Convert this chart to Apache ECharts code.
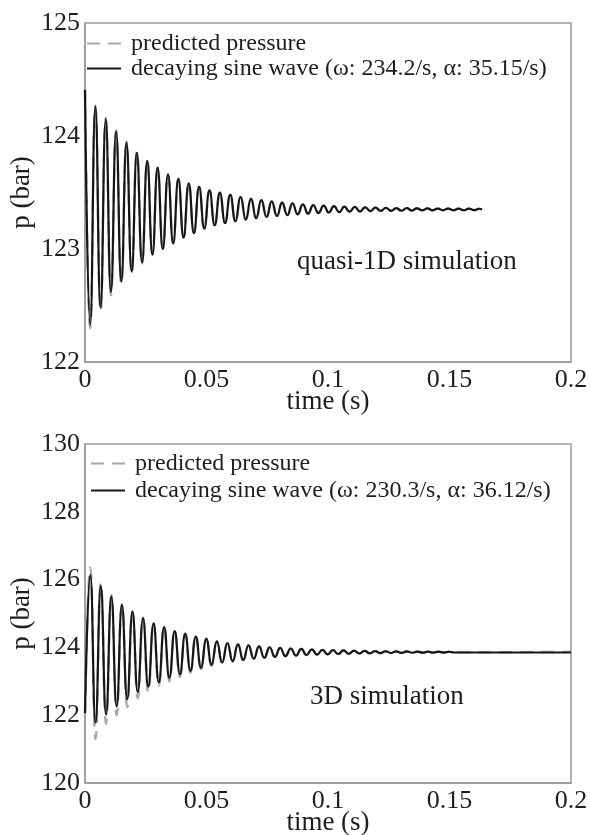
<!DOCTYPE html>
<html>
<head>
<meta charset="utf-8">
<script src="https://cdn.jsdelivr.net/npm/echarts/dist/echarts.min.js"></script>
<style>
html,body{margin:0;padding:0;background:#fff;}
#chart{width:590px;height:835px;}
</style>
</head>
<body>
<div id="chart"></div>
<script>
// ---------- data ----------
// x-axis ticks
const xTicks = [0, 0.05, 0.1, 0.15, 0.2];
const yTicksTop = [122, 123, 124, 125];
const yTicksBottom = [120, 122, 124, 126, 128, 130];

const nameGray = 'predicted pressure';
const nameTop = 'decaying sine wave (ω: 234.2/s, α: 35.15/s)';
const nameBottom = 'decaying sine wave (ω: 230.3/s, α: 36.12/s)';

// top panel: times of successive extrema (s)
const topTime = [0,0.00214,0.00427,0.00641,0.00854,0.01068,0.01281,0.01495,0.01708,0.01922,
0.02135,0.02349,0.02562,0.02776,0.02989,0.03203,0.03416,0.0363,0.03843,0.04057,
0.0427,0.04484,0.04697,0.04911,0.05124,0.05338,0.05551,0.05765,0.05978,0.06192,
0.06405,0.06619,0.06832,0.07046,0.07259,0.07473,0.07686,0.079,0.08113,0.08327,
0.0854,0.08754,0.08967,0.09181,0.09394,0.09608,0.09821,0.10035,0.10248,0.10462,
0.10675,0.10889,0.11102,0.11316,0.11529,0.11743,0.11956,0.1217,0.12383,0.12597,
0.1281,0.13024,0.13237,0.13451,0.13664,0.13878,0.14091,0.14305,0.14518,0.14732,
0.14945,0.15159,0.15372,0.15586,0.15799,0.16013,0.16226,0.1634];

// top panel: decaying sine wave (bar)
const topSine = [124.41,122.33,124.26,122.48,124.15,122.62,124.04,122.71,123.94,122.80,
123.85,122.88,123.78,122.95,123.72,123.00,123.66,123.05,123.62,123.10,
123.58,123.14,123.55,123.18,123.52,123.21,123.50,123.23,123.48,123.245,
123.46,123.26,123.445,123.272,123.432,123.283,123.421,123.292,123.411,123.30,
123.403,123.307,123.395,123.313,123.389,123.318,123.384,123.323,123.379,123.326,
123.375,123.33,123.372,123.332,123.369,123.335,123.366,123.337,123.364,123.338,
123.362,123.339,123.361,123.34,123.36,123.341,123.359,123.342,123.358,123.342,
123.358,123.343,123.357,123.343,123.357,123.344,123.356,123.35];

// top panel: predicted pressure (bar)
const topPred = [124.43,122.30,124.27,122.45,124.16,122.59,124.05,122.69,123.95,122.78,
123.86,122.87,123.78,122.95,123.72,123.00,123.66,123.05,123.62,123.10,
123.58,123.14,123.55,123.18,123.52,123.21,123.50,123.23,123.48,123.245,
123.46,123.26,123.445,123.272,123.432,123.283,123.421,123.292,123.411,123.30,
123.403,123.307,123.395,123.313,123.389,123.318,123.384,123.323,123.379,123.326,
123.375,123.33,123.372,123.332,123.369,123.335,123.366,123.337,123.364,123.338,
123.362,123.339,123.361,123.34,123.36,123.341,123.359,123.342,123.358,123.342,
123.358,123.343,123.357,123.343,123.357,123.344,123.356,123.35];

// bottom panel: times of successive extrema (s)
const botTime = [0,0.00217,0.00434,0.00651,0.00868,0.01086,0.01303,0.0152,0.01737,0.01954,
0.02171,0.02388,0.02605,0.02822,0.03039,0.03257,0.03474,0.03691,0.03908,0.04125,
0.04342,0.04559,0.04776,0.04993,0.0521,0.05428,0.05645,0.05862,0.06079,0.06296,
0.06513,0.0673,0.06947,0.07164,0.07381,0.07599,0.07816,0.08033,0.0825,0.08467,
0.08684,0.08901,0.09118,0.09335,0.09552,0.0977,0.09987,0.10204,0.10421,0.10638,
0.10855,0.11072,0.11289,0.11506,0.11723,0.11941,0.12158,0.12375,0.12592,0.12809,
0.13026,0.13243,0.1346,0.13677,0.13894,0.14112,0.14329,0.14546,0.14763,0.1498,
0.15197,0.2];

// bottom panel: decaying sine wave (bar)
const botSine = [122.06,126.14,121.78,125.81,122.02,125.50,122.26,125.25,122.47,125.05,
122.68,124.86,122.84,124.71,122.97,124.60,123.10,124.48,123.21,124.40,
123.31,124.32,123.40,124.25,123.49,124.18,123.55,124.13,123.59,124.09,
123.63,124.06,123.665,124.03,123.695,124.005,123.72,123.985,123.74,123.968,
123.76,123.954,123.773,123.94,123.785,123.929,123.796,123.919,123.805,123.91,
123.813,123.903,123.82,123.897,123.826,123.892,123.831,123.887,123.835,123.883,
123.839,123.88,123.842,123.877,123.844,123.875,123.846,123.873,123.848,123.871,
123.85,123.85];

// bottom panel: predicted pressure (bar)
const botPred = [122.00,126.36,121.30,125.90,121.75,125.55,122.00,125.28,122.24,125.07,
122.50,124.88,122.68,124.72,122.86,124.61,123.00,124.49,123.13,124.41,
123.25,124.33,123.36,124.26,123.45,124.18,123.55,124.13,123.59,124.09,
123.63,124.06,123.665,124.03,123.695,124.005,123.72,123.985,123.74,123.968,
123.76,123.954,123.773,123.94,123.785,123.929,123.796,123.919,123.805,123.91,
123.813,123.903,123.82,123.897,123.826,123.892,123.831,123.887,123.835,123.883,
123.839,123.88,123.842,123.877,123.844,123.875,123.846,123.873,123.848,123.871,
123.855,123.87];

// ---------- chart ----------
const FONT = '"Liberation Serif", "DejaVu Serif", serif';
const TXT = '#1e1e1e';
const AX = '#9a9a9a';
const zip = (t, v) => t.map((x, i) => [x, v[i]]);

function xAxis(gi) {
  return {
    type: 'value', gridIndex: gi, min: xTicks[0], max: xTicks[xTicks.length - 1], interval: 0.05,
    name: 'time (s)', nameLocation: 'middle', nameGap: 26, nameMoveOverlap: false,
    nameTextStyle: { fontFamily: FONT, fontSize: 27, color: TXT },
    axisLine: { show: true, lineStyle: { color: AX, width: 1.5 } },
    axisTick: { show: false }, splitLine: { show: false },
    axisLabel: { fontFamily: FONT, fontSize: 26, color: TXT, margin: 5,
      formatter: v => String(+v.toFixed(2)) }
  };
}
function yAxis(gi, ticks) {
  return {
    type: 'value', gridIndex: gi, min: ticks[0], max: ticks[ticks.length - 1],
    interval: ticks[1] - ticks[0],
    name: 'p (bar)', nameLocation: 'middle', nameGap: 50, nameMoveOverlap: false,
    nameTextStyle: { fontFamily: FONT, fontSize: 27, color: TXT },
    axisLine: { show: true, lineStyle: { color: AX, width: 1.5 } },
    axisTick: { show: false }, splitLine: { show: false },
    axisLabel: { fontFamily: FONT, fontSize: 26, color: TXT, margin: 5 }
  };
}
function predSeries(gi, data) {
  return { name: nameGray, type: 'line', xAxisIndex: gi, yAxisIndex: gi, data: data,
    symbol: 'none', showSymbol: false, smooth: 0.5, z: 2, animation: false,
    lineStyle: { color: '#a8a8a8', width: 2.4, type: [13, 8] }, itemStyle: { color: '#a8a8a8' } };
}
function sineSeries(gi, name, data) {
  return { name: name, type: 'line', xAxisIndex: gi, yAxisIndex: gi, data: data,
    symbol: 'none', showSymbol: false, smooth: 0.5, z: 3, animation: false,
    lineStyle: { color: '#161616', width: 2.2 }, itemStyle: { color: '#161616' } };
}
function legend(top, left, names, lh) {
  return { top: top, left: left, orient: 'vertical', padding: 0, itemGap: 0,
    itemWidth: 34, itemHeight: 14, data: names, selectedMode: false,
    itemStyle: { color: 'rgba(0,0,0,0)', borderColor: 'rgba(0,0,0,0)', borderWidth: 0, opacity: 0 },
    textStyle: { fontFamily: FONT, fontSize: 24, color: TXT, lineHeight: lh, padding: [0, 0, 0, 5] } };
}

const chart = echarts.init(document.getElementById('chart'), null, { renderer: 'canvas' });
chart.setOption({
  backgroundColor: '#fff',
  animation: false,
  grid: [
    { left: 85, top: 23, width: 486, height: 339, show: true, borderColor: AX, borderWidth: 1.5, backgroundColor: '#fff', outerBoundsMode: 'none', containLabel: false },
    { left: 85, top: 444, width: 486, height: 339, show: true, borderColor: AX, borderWidth: 1.5, backgroundColor: '#fff', outerBoundsMode: 'none', containLabel: false }
  ],
  xAxis: [xAxis(0), xAxis(1)],
  yAxis: [yAxis(0, yTicksTop), yAxis(1, yTicksBottom)],
  legend: [
    legend(31, 86, [nameGray, nameTop], 25),
    legend(450, 90, [nameGray, nameBottom], 27)
  ],
  graphic: [
    { type: 'text', left: 297, top: 248, style: { text: 'quasi-1D simulation', font: '27px ' + FONT, fill: TXT } },
    { type: 'text', left: 310, top: 683, style: { text: '3D simulation', font: '27px ' + FONT, fill: TXT } }
  ],
  series: [
    predSeries(0, zip(topTime, topPred)),
    sineSeries(0, nameTop, zip(topTime, topSine)),
    predSeries(1, zip(botTime, botPred)),
    sineSeries(1, nameBottom, zip(botTime, botSine))
  ]
});
</script>
</body>
</html>
